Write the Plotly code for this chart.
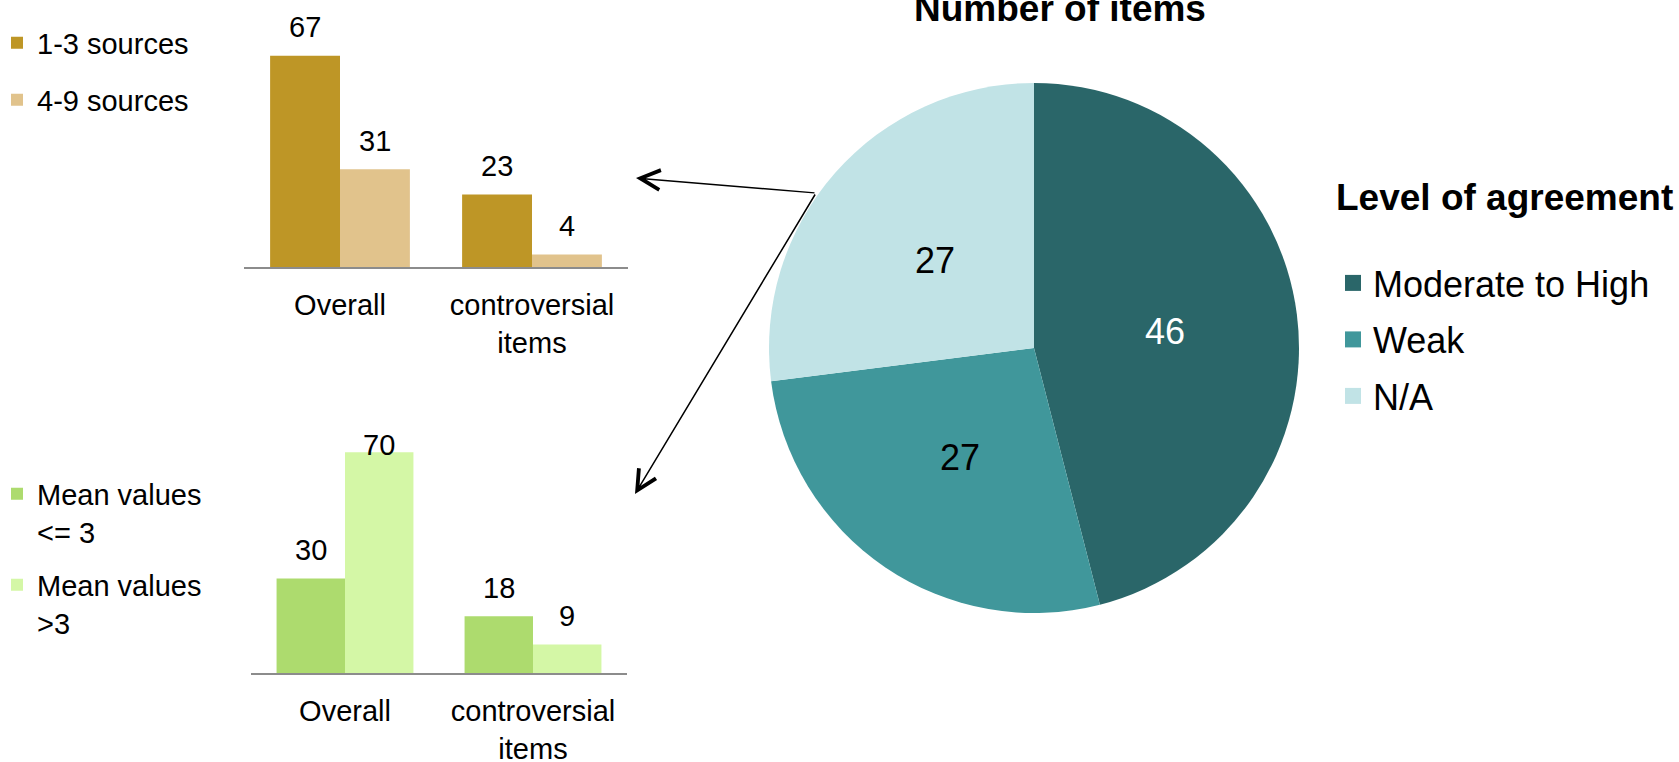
import math
import plotly.graph_objects as go

W, H = 1679, 762

# ---------------- data ----------------
bar_categories = ["Overall", "controversial<br>items"]

sources_names = ["1-3 sources", "4-9 sources"]
sources_1_3 = [67, 23]
sources_4_9 = [31, 4]

mean_names = ["Mean values<br><= 3", "Mean values<br>>3"]
mean_le_3 = [30, 18]
mean_gt_3 = [70, 9]

agreement_labels = ["Moderate to High", "Weak", "N/A"]
agreement_counts = [46, 27, 27]

# ---------------- styling ----------------
FONT = "Arial, 'Liberation Sans', sans-serif"
SOURCE_COLORS = ["#BE9626", "#E1C38C"]
MEAN_COLORS = ["#ADDB6E", "#D4F7A6"]
PIE_COLORS = ["#2A6669", "#40979B", "#C1E3E6"]
PIE_TEXT_COLORS = ["white", "black", "black"]
AXIS_GREY = "#8C8C8C"
BARGAP = 0.272
SMALL = 29          # bar panels text size
BIG = 36            # pie legend text size
LABEL_LIFT = 28.5   # px between bar top and the centre of its value label


def px(x):
    return x / W


def py(y):
    return 1 - y / H


# panel geometry in pixels: left, right, baseline, axis max, px per unit
panels = {
    "top": dict(x0=244, x1=628, base=267, ymax=81, ppu=3.154),
    "bottom": dict(x0=251, x1=627, base=673, ymax=77, ppu=3.153),
}

# pie geometry in pixels
PIE_CX, PIE_CY, PIE_R = 1034, 348, 265

fig = go.Figure()

bar_sets = [
    ("top", "x", "y", "legend", sources_names, [sources_1_3, sources_4_9], SOURCE_COLORS),
    ("bottom", "x2", "y2", "legend2", mean_names, [mean_le_3, mean_gt_3], MEAN_COLORS),
]

annotations = []
for panel, xa, ya, leg, names, series, colors in bar_sets:
    g = panels[panel]
    bar_w = (g["x1"] - g["x0"]) / len(bar_categories) * (1 - BARGAP) / 2
    plot_h = g["ymax"] * g["ppu"]
    for k, (name, vals, col) in enumerate(zip(names, series, colors)):
        fig.add_trace(go.Bar(
            x=bar_categories, y=vals, name=name,
            marker=dict(color=col, line=dict(width=0)),
            xaxis=xa, yaxis=ya, legend=leg, legendgroup=f"{panel}{k}",
            hoverinfo="x+y+name",
        ))
        for cat, v in zip(bar_categories, vals):
            lift = LABEL_LIFT
            # keep the label inside the plotting area
            if v * g["ppu"] + lift > plot_h - SMALL / 2:
                lift = plot_h - SMALL / 2 - v * g["ppu"]
            annotations.append(dict(
                x=cat, y=v, xref=xa, yref=ya, text=str(v), showarrow=False,
                xshift=(k - 0.5) * bar_w, yshift=lift, yanchor="middle",
                font=dict(size=SMALL, color="black", family=FONT),
            ))

# pie of agreement levels
fig.add_trace(go.Pie(
    labels=agreement_labels, values=agreement_counts, sort=False,
    direction="clockwise", rotation=0,
    marker=dict(colors=PIE_COLORS, line=dict(width=0)),
    textinfo="none",
    domain=dict(x=[px(PIE_CX - PIE_R), px(PIE_CX + PIE_R)],
                y=[py(PIE_CY + PIE_R), py(PIE_CY - PIE_R)]),
    showlegend=False, hoverinfo="label+value",
))

# slice values, written half way out along each slice's middle angle
total = sum(agreement_counts)
start = 0.0
for v, tc in zip(agreement_counts, PIE_TEXT_COLORS):
    mid = math.radians((start + v / 2) / total * 360)
    start += v
    lx = PIE_CX + 0.5 * PIE_R * math.sin(mid)
    ly = PIE_CY - 0.5 * PIE_R * math.cos(mid)
    annotations.append(dict(
        x=px(lx), y=py(ly), xref="paper", yref="paper", text=str(v),
        showarrow=False, xanchor="center", yanchor="middle",
        font=dict(size=36, color=tc, family=FONT),
    ))

# legend entries for the pie slices
for lab, col in zip(agreement_labels, PIE_COLORS):
    fig.add_trace(go.Scatter(
        x=[None], y=[None], mode="markers", name=lab,
        marker=dict(symbol="square", size=16, color=col),
        legend="legend3", legendgroup=lab, xaxis="x", yaxis="y",
        hoverinfo="skip",
    ))

# titles
annotations.append(dict(
    x=px(1060), y=py(8), xref="paper", yref="paper", showarrow=False,
    text="<b>Number of items</b>", xanchor="center", yanchor="middle",
    font=dict(size=37, color="black", family=FONT),
))
annotations.append(dict(
    x=px(1334), y=py(197), xref="paper", yref="paper", showarrow=False,
    text="<b>Level of agreement</b>", xanchor="left", yanchor="middle",
    font=dict(size=37, color="black", family=FONT),
))

# connector arrows from the pie to the two bar panels
tail = (816, 193)
for head in [(636, 178), (635, 494)]:
    annotations.append(dict(
        x=px(head[0]), y=py(head[1]), xref="paper", yref="paper",
        ax=tail[0] - head[0], ay=tail[1] - head[1], axref="pixel", ayref="pixel",
        text="", showarrow=True, arrowhead=5, arrowsize=2.6, arrowwidth=1.5,
        arrowcolor="black", standoff=0, startstandoff=0,
    ))


def xaxis_for(panel, anchor):
    g = panels[panel]
    return dict(
        domain=[px(g["x0"]), px(g["x1"])], anchor=anchor, type="category",
        range=[-0.5, 1.5], showgrid=False, zeroline=False,
        showline=True, linecolor=AXIS_GREY, linewidth=2,
        ticks="", ticklabelstandoff=11,
        tickfont=dict(size=SMALL, color="black", family=FONT),
        fixedrange=True,
    )


def yaxis_for(panel, anchor):
    g = panels[panel]
    return dict(
        domain=[py(g["base"]), py(g["base"] - g["ymax"] * g["ppu"])],
        anchor=anchor, range=[0, g["ymax"]], visible=False, fixedrange=True,
    )


legend_font = dict(size=SMALL, color="black", family=FONT)

fig.update_layout(
    width=W, height=H,
    margin=dict(l=0, r=0, t=0, b=0, autoexpand=False),
    paper_bgcolor="white", plot_bgcolor="white",
    barmode="group", bargap=BARGAP, bargroupgap=0,
    font=dict(family=FONT, color="black"),
    xaxis=xaxis_for("top", "y"),
    yaxis=yaxis_for("top", "x"),
    xaxis2=xaxis_for("bottom", "y2"),
    yaxis2=yaxis_for("bottom", "x2"),
    legend=dict(
        x=px(-3), y=py(17.5), xanchor="left", yanchor="top",
        font=legend_font, traceorder="grouped", tracegroupgap=16.3,
        bgcolor="rgba(0,0,0,0)", borderwidth=0,
    ),
    legend2=dict(
        x=px(-3), y=py(468.5), xanchor="left", yanchor="top",
        font=legend_font, traceorder="grouped", tracegroupgap=12.6,
        valign="top", bgcolor="rgba(0,0,0,0)", borderwidth=0,
    ),
    legend3=dict(
        x=px(1333), y=py(253), xanchor="left", yanchor="top",
        font=dict(size=BIG, color="black", family=FONT),
        traceorder="grouped", tracegroupgap=6.7,
        bgcolor="rgba(0,0,0,0)", borderwidth=0,
    ),
    annotations=annotations,
    showlegend=True,
)

fig.write_html("out.html")
